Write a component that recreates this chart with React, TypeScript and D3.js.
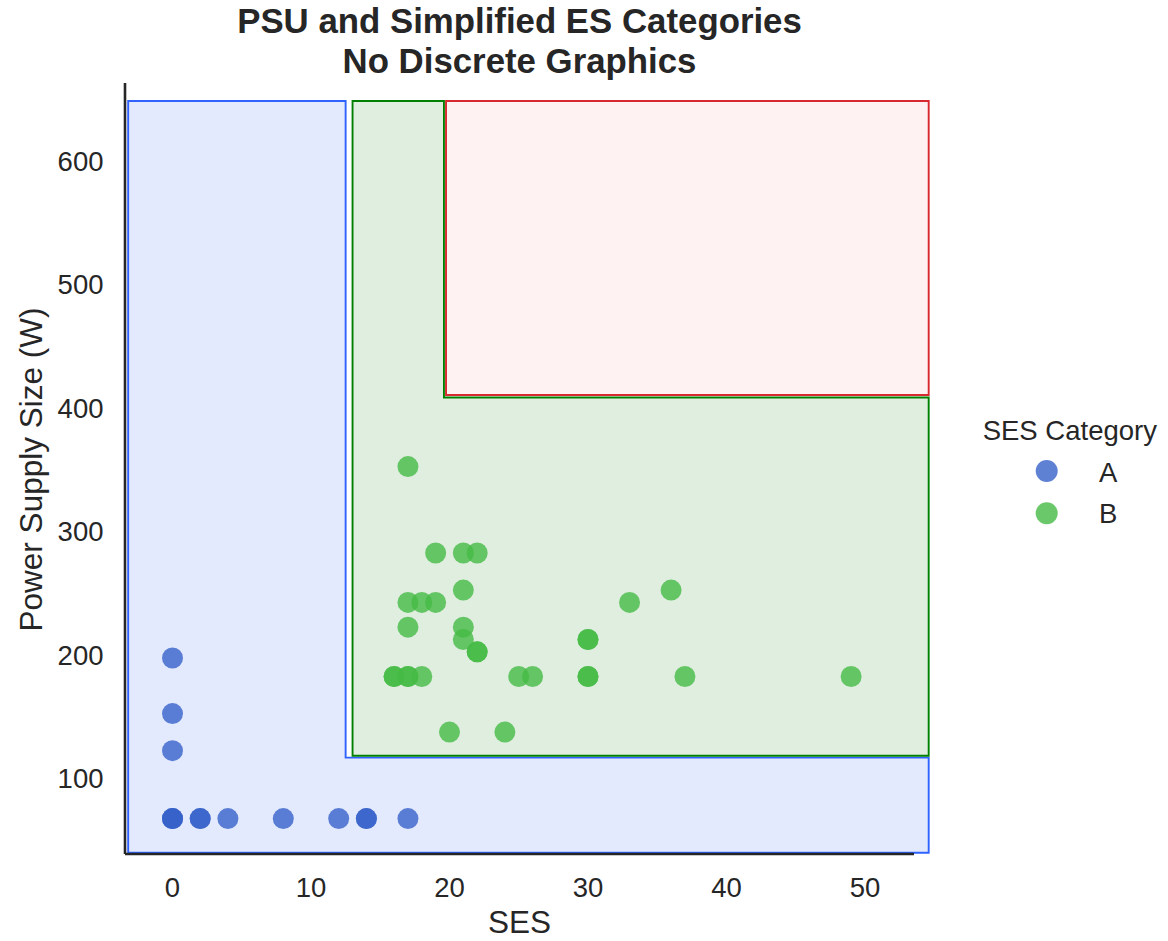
import React from "react";
import * as d3 from "d3";

// SES Category A points (SES, PSU watts)
const sesA = [0, 0, 0, 0, 0, 0, 2, 2, 4, 8, 12, 14, 14, 17];
const psuA = [195, 150, 120, 65, 65, 65, 65, 65, 65, 65, 65, 65, 65, 65];

// SES Category B points
const sesB = [17, 19, 21, 22, 21, 17, 18, 19, 17, 21, 21, 22, 22, 30, 30, 33, 36, 16, 16, 17, 17, 18, 25, 26, 30, 30, 37, 49, 20, 24];
const psuB = [350, 280, 280, 280, 250, 240, 240, 240, 220, 220, 210, 200, 200, 210, 210, 240, 250, 180, 180, 180, 180, 180, 180, 180, 180, 180, 180, 180, 135, 135];

// category regions as polygons in data units [SES, W]
const regionA = [[-3.2, 646], [12.5, 646], [12.5, 114.3], [54.6, 114.3], [54.6, 37.3], [-3.2, 37.3]];
const regionB = [[13, 646], [19.6, 646], [19.6, 406], [54.6, 406], [54.6, 115.8], [13, 115.8]];
const regionC = [[19.75, 646], [54.6, 646], [54.6, 408], [19.75, 408]];

const xTicks = [0, 10, 20, 30, 40, 50];
const yTicks = [100, 200, 300, 400, 500, 600];
const categories = ["A", "B"];

const W = 1168;
const H = 941;
const margin = { left: 125, right: 914, top: 83, bottom: 854 };
const font = "'Liberation Sans', Arial, sans-serif";
const ink = "#262626";

const colors = { A: "rgb(54,98,201)", B: "rgb(69,186,69)" };

export default function App() {
  const x = d3.scaleLinear().domain([-3.43, 53.54]).range([margin.left, margin.right]);
  const y = d3.scaleLinear().domain([36.3, 660.6]).range([margin.bottom, margin.top]);
  const line = d3
    .line<number[]>()
    .x(d => x(d[0]))
    .y(d => y(d[1]));
  const poly = (pts: number[][]) => line(pts) + "Z";

  const ptsA = sesA.map((s, i) => ({ s, w: psuA[i] }));
  const ptsB = sesB.map((s, i) => ({ s, w: psuB[i] }));
  const cx = (margin.left + margin.right) / 2;

  return (
    <div style={{ position: "absolute", left: 0, top: 0 }}>
      <svg width={W} height={H} style={{ display: "block", background: "#fff" }}>
        {/* regions */}
        <path d={poly(regionA)} fill="#e4eafd" stroke="#2f62ff" strokeWidth={1.9} />
        <path d={poly(regionB)} fill="#e0eee0" stroke="#008000" strokeWidth={1.9} />
        <path d={poly(regionC)} fill="#fff2f3" stroke="#d62a30" strokeWidth={1.9} />

        {/* spines */}
        <line x1={margin.left} x2={margin.left} y1={margin.top} y2={margin.bottom} stroke={ink} strokeWidth={2.6} />
        <line x1={margin.left} x2={margin.right} y1={margin.bottom} y2={margin.bottom} stroke={ink} strokeWidth={2.6} />

        {/* points */}
        {ptsA.map((d, i) => (
          <circle key={"a" + i} cx={x(d.s)} cy={y(d.w)} r={10.5} fill={colors.A} fillOpacity={0.8} />
        ))}
        {ptsB.map((d, i) => (
          <circle key={"b" + i} cx={x(d.s)} cy={y(d.w)} r={10.5} fill={colors.B} fillOpacity={0.8} />
        ))}

        {/* tick labels */}
        {xTicks.map(t => (
          <text key={"x" + t} x={x(t)} y={896.7} textAnchor="middle" fontFamily={font} fontSize={27.5} fill={ink}>
            {t}
          </text>
        ))}
        {yTicks.map(t => (
          <text key={"y" + t} x={103.5} y={y(t) + 13} textAnchor="end" fontFamily={font} fontSize={27.5} fill={ink}>
            {t}
          </text>
        ))}

        {/* axis labels */}
        <text x={cx} y={933.3} textAnchor="middle" fontFamily={font} fontSize={31.5} fill={ink}>
          SES
        </text>
        <text
          transform={`translate(41.7,469.5) rotate(-90)`}
          textAnchor="middle"
          fontFamily={font}
          fontSize={31.5}
          fill={ink}
        >
          Power Supply Size (W)
        </text>

        {/* title */}
        <text x={cx} y={33.3} textAnchor="middle" fontFamily={font} fontSize={34.8} fontWeight="bold" fill={ink}>
          PSU and Simplified ES Categories
        </text>
        <text x={cx} y={72.7} textAnchor="middle" fontFamily={font} fontSize={34.8} fontWeight="bold" fill={ink}>
          No Discrete Graphics
        </text>

        {/* legend */}
        <text x={982.7} y={440} textAnchor="start" fontFamily={font} fontSize={27.5} fill={ink}>
          SES Category
        </text>
        {categories.map((c, i) => (
          <g key={c}>
            <circle cx={1046.7} cy={471 + i * 42.3} r={11} fill={colors[c as "A" | "B"]} fillOpacity={0.8} />
            <text x={1099} y={481.5 + i * 41.2} textAnchor="start" fontFamily={font} fontSize={27.5} fill={ink}>
              {c}
            </text>
          </g>
        ))}
      </svg>
    </div>
  );
}
